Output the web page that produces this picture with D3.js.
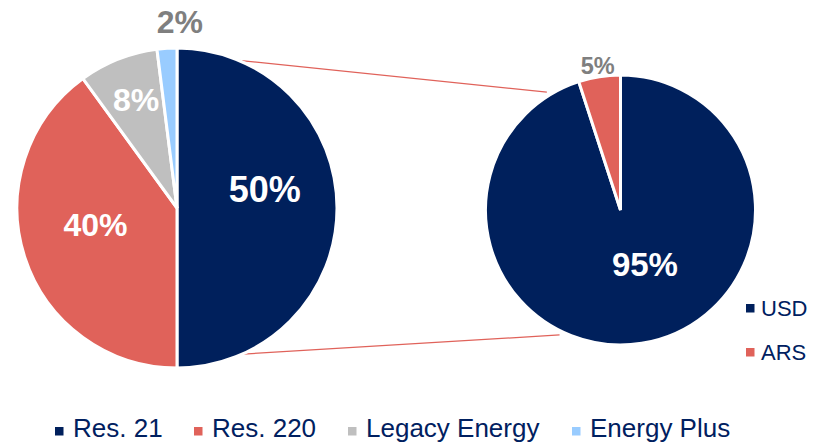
<!DOCTYPE html>
<html>
<head>
<meta charset="utf-8">
<script src="https://cdn.jsdelivr.net/npm/d3@7"></script>
<style>
  html, body { margin: 0; padding: 0; background: #fff; }
  svg { display: block; font-family: "Liberation Sans", Arial, sans-serif; }
</style>
</head>
<body>
<svg id="chart" width="826" height="444"></svg>
<script>
// Program mix
const programs = ["Res. 21", "Res. 220", "Legacy Energy", "Energy Plus"];
const programShares = [50, 40, 8, 2];
const programColors = ["#00205C", "#E0625A", "#BFBFBF", "#99CCFF"];

// Currency split of Res. 21
const currencies = ["USD", "ARS"];
const currencyShares = [95, 5];
const currencyColors = ["#00205C", "#E0625A"];

const svg = d3.select("#chart");
const TAU = Math.PI * 2;
const DEG = Math.PI / 180;

const left = { cx: 177, cy: 208, r: 160 };
const right = { cx: 620.5, cy: 210, r: 135 };

function pt(c, angleDeg, r) {
  const a = angleDeg * DEG;
  return [c.cx + r * Math.sin(a), c.cy - r * Math.cos(a)];
}

// Connector lines between the two pies (drawn underneath)
const connectors = [
  [pt(left, 22.6, 160), pt(right, -32, 139)],
  [pt(left, 157, 159), pt(right, 206, 139)]
];
svg.selectAll("line.connector").data(connectors).join("line")
  .attr("class", "connector")
  .attr("x1", d => d[0][0]).attr("y1", d => d[0][1])
  .attr("x2", d => d[1][0]).attr("y2", d => d[1][1])
  .attr("stroke", "#E0625A").attr("stroke-width", 1.2);

// Label placement: shift from slice mid-angle (deg) and radius factor
function labelXY(d, r, shiftDeg) {
  const a = (d.startAngle + d.endAngle) / 2 + shiftDeg * DEG;
  return [r * Math.sin(a), -r * Math.cos(a)];
}

// Left pie: clockwise from 12 o'clock
const leftPie = d3.pie().sort(null).value(d => d.v)
  .startAngle(0).endAngle(TAU);
const leftData = leftPie(programs.map((p, i) => ({ name: p, v: programShares[i], c: programColors[i] })));
const leftArc = d3.arc().innerRadius(0).outerRadius(left.r);

const gL = svg.append("g").attr("transform", `translate(${left.cx},${left.cy})`);
gL.selectAll("path").data(leftData).join("path")
  .attr("d", leftArc)
  .attr("fill", d => d.data.c)
  .attr("stroke", "#fff").attr("stroke-width", 3).attr("stroke-linejoin", "miter");

const leftLabelPos = [
  { r: 0.56, shift: -11.6, size: 36, fill: "#fff" },
  { r: 0.52, shift: 6.3, size: 32, fill: "#fff" },
  { r: 0.72, shift: 0.8, size: 32, fill: "#fff" },
  { r: 1.16, shift: 4.5, size: 32, fill: "#7F7F7F" }
];
gL.selectAll("text").data(leftData).join("text")
  .attr("transform", (d, i) => {
    const c = labelXY(d, left.r * leftLabelPos[i].r, leftLabelPos[i].shift);
    return `translate(${c[0]},${c[1]})`;
  })
  .attr("text-anchor", "middle")
  .attr("dominant-baseline", "central")
  .attr("font-weight", "bold")
  .attr("font-size", (d, i) => leftLabelPos[i].size)
  .attr("fill", (d, i) => leftLabelPos[i].fill)
  .text(d => d.data.v + "%");

// Right pie: USD from 12 o'clock clockwise, ARS closes the circle
const rightPie = d3.pie().sort(null).value(d => d.v)
  .startAngle(0).endAngle(TAU);
const rightData = rightPie(currencies.map((p, i) => ({ name: p, v: currencyShares[i], c: currencyColors[i] })));
const rightArc = d3.arc().innerRadius(0).outerRadius(right.r);

const gR = svg.append("g").attr("transform", `translate(${right.cx},${right.cy})`);
gR.selectAll("path").data(rightData).join("path")
  .attr("d", rightArc)
  .attr("fill", d => d.data.c)
  .attr("stroke", "#fff").attr("stroke-width", 3).attr("stroke-linejoin", "miter");

const rightLabelPos = [
  { r: 0.445, shift: -15, size: 33, fill: "#fff" },
  { r: 1.08, shift: 0, size: 23.5, fill: "#7F7F7F" }
];
gR.selectAll("text").data(rightData).join("text")
  .attr("transform", (d, i) => {
    const c = labelXY(d, right.r * rightLabelPos[i].r, rightLabelPos[i].shift);
    return `translate(${c[0]},${c[1]})`;
  })
  .attr("text-anchor", "middle")
  .attr("dominant-baseline", "central")
  .attr("font-weight", "bold")
  .attr("font-size", (d, i) => rightLabelPos[i].size)
  .attr("fill", (d, i) => rightLabelPos[i].fill)
  .text(d => d.data.v + "%");

// Bottom legend
const legendX = [55, 194, 348, 572];
const gLeg = svg.append("g");
const items = gLeg.selectAll("g").data(programs).join("g")
  .attr("transform", (d, i) => `translate(${legendX[i]},437)`);
items.append("rect").attr("x", 0).attr("y", -10).attr("width", 8.5).attr("height", 8.5)
  .attr("fill", (d, i) => programColors[i]);
items.append("text").attr("x", 18).attr("y", 0)
  .attr("font-size", 26).attr("fill", "#002060").text(d => d);

// Currency legend
const curY = [316, 360];
const cItems = svg.append("g").selectAll("g").data(currencies).join("g")
  .attr("transform", (d, i) => `translate(746,${curY[i]})`);
cItems.append("rect").attr("x", 0).attr("y", -12).attr("width", 8.5).attr("height", 8.5)
  .attr("fill", (d, i) => currencyColors[i]);
cItems.append("text").attr("x", 15).attr("y", 0)
  .attr("font-size", 22).attr("fill", "#002060").text(d => d);
</script>
</body>
</html>
